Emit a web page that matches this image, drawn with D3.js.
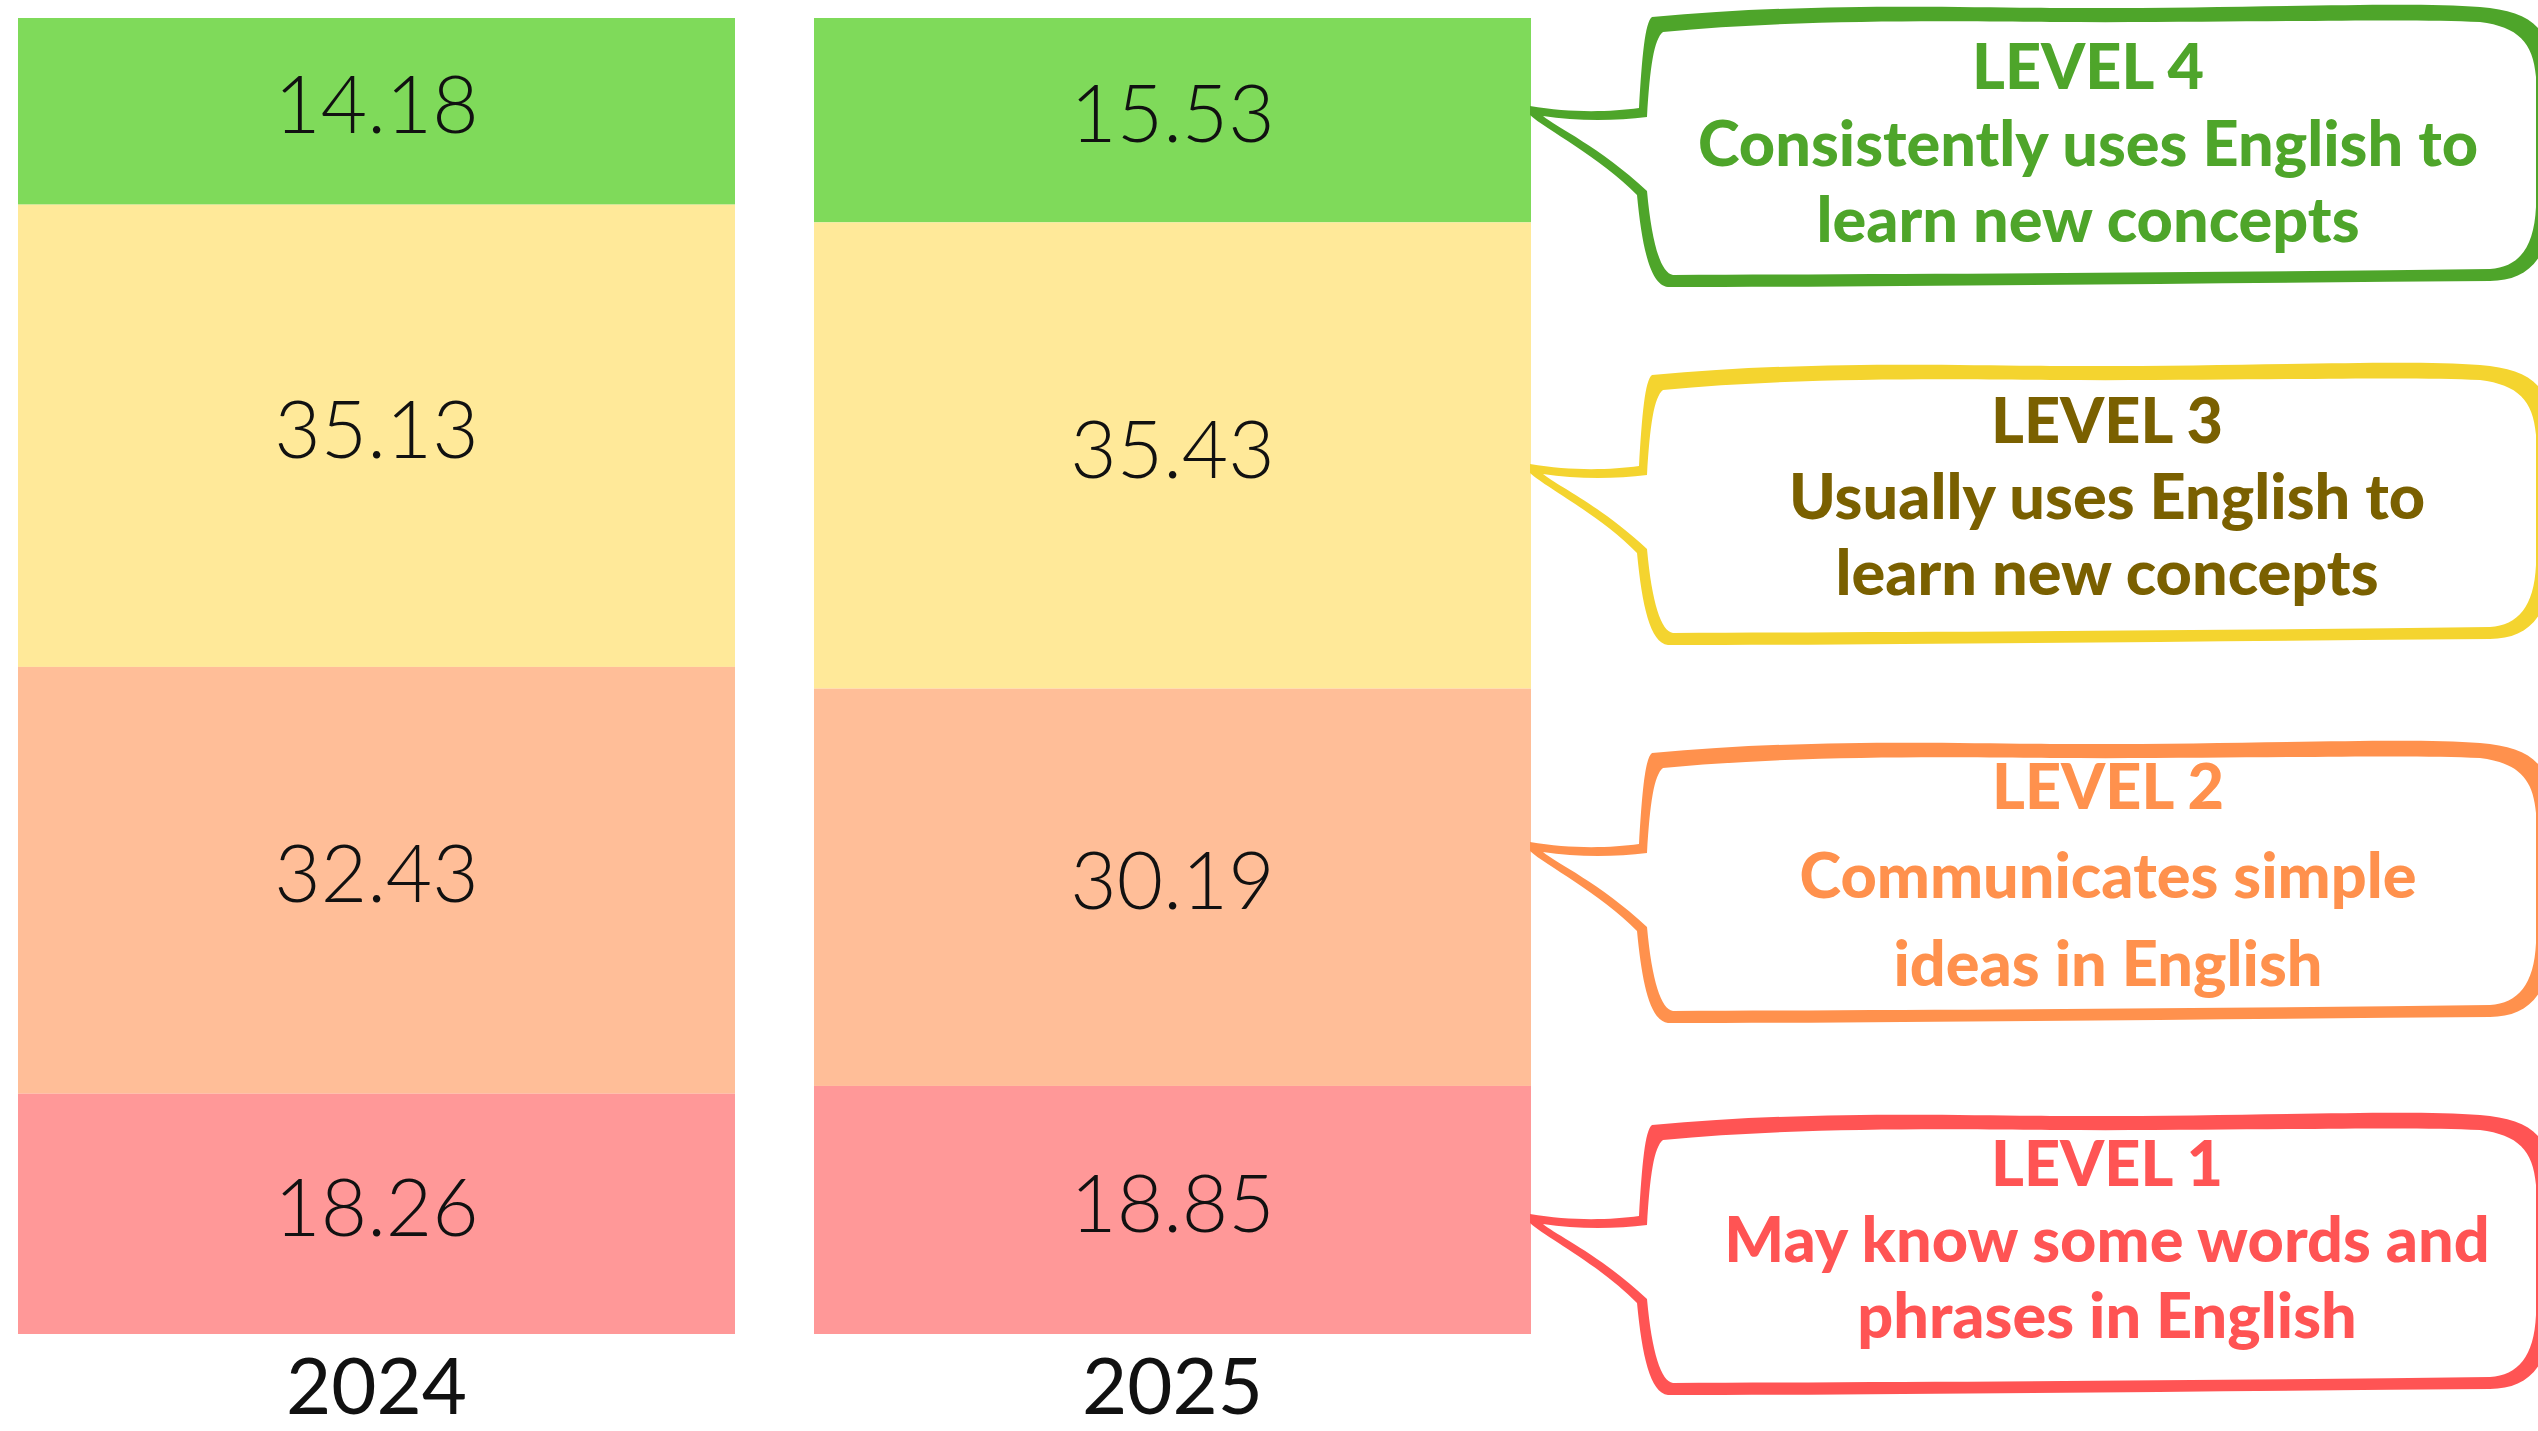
<!DOCTYPE html>
<html>
<head>
<meta charset="utf-8">
<script src="https://cdn.jsdelivr.net/npm/d3@7"></script>
<style>
  html, body { margin: 0; padding: 0; background: #fff; }
  svg { display: block; }
</style>
</head>
<body>
<svg id="chart" width="2538" height="1431"></svg>
<script>
// data (percent of students at each level)
var years = ["2024", "2025"];
var levels = ["LEVEL 4", "LEVEL 3", "LEVEL 2", "LEVEL 1"];
var values2024 = [14.18, 35.13, 32.43, 18.26];
var values2025 = [15.53, 35.43, 30.19, 18.85];
var levelLines = [
  ["Consistently uses English to", "learn new concepts"],
  ["Usually uses English to", "learn new concepts"],
  ["Communicates simple", "ideas in English"],
  ["May know some words and", "phrases in English"]
];

// colours
var barColors = ["#7fda5a", "#ffe999", "#ffbe98", "#ff9898"];
var bubbleColors = ["#4ea52a", "#f4d42f", "#ff914d", "#ff5454"];
var textColors = ["#4ea52a", "#7a6000", "#ff914d", "#ff5454"];

var width = 2538, height = 1431;
var svg = d3.select("#chart");

// one row per year, keyed by level
var rows = years.map(function(yr, i){
  var vals = i === 0 ? values2024 : values2025;
  var row = { year: yr };
  levels.forEach(function(l, j){ row[l] = vals[j]; });
  return row;
});

var stack = d3.stack().keys(levels);
var series = stack(rows);

var x = d3.scaleBand()
  .domain(years)
  .range([18, 1531])
  .paddingInner(79 / 796)
  .paddingOuter(0);

var y = d3.scaleLinear()
  .domain([0, 100])
  .range([18, 1334]);

// bars (level 4 stacked first, so it sits at the top)
var layer = svg.append("g")
  .selectAll("g")
  .data(series)
  .enter()
    .append("g")
    .attr("fill", function(d, i){ return barColors[i]; });

layer.selectAll("rect")
  .data(function(d){ return d; })
  .enter()
    .append("rect")
    .attr("x", function(d){ return x(d.data.year); })
    .attr("width", x.bandwidth())
    .attr("y", function(d){ return y(d[0]); })
    .attr("height", function(d){ return y(d[1]) - y(d[0]); });

// value labels
layer.selectAll("text")
  .data(function(d){ return d; })
  .enter()
    .append("text")
    .attr("x", function(d){ return x(d.data.year) + x.bandwidth() / 2; })
    .attr("y", function(d){ return (y(d[0]) + y(d[1])) / 2 + 22; })
    .attr("text-anchor", "middle")
    .style("font-family", "Lato, 'Noto Sans', sans-serif")
    .style("font-weight", 300)
    .style("font-size", "80px")
    .style("fill", "#111")
    .text(function(d){ return (d[1] - d[0]).toFixed(2); });

// year axis
var axis = svg.append("g")
  .attr("transform", "translate(0,1334)")
  .call(d3.axisBottom(x).tickSize(0).tickPadding(0));
axis.select(".domain").remove();
axis.selectAll("text")
  .attr("dy", null)
  .attr("y", 80)
  .style("font-family", "Lato, 'Noto Sans', sans-serif")
  .style("font-weight", 400)
  .style("font-size", "78px")
  .style("fill", "#111");

// speech bubbles on the right
var bubbleTops = [17, 375, 753, 1125];
var textBase = [[72, 149, 225], [68, 144, 220], [56, 145, 233], [61, 137, 213]];
var textCenter = [2088, 2107, 2108, 2107];

function outerPath(T){
  var p = d3.path();
  p.moveTo(1652, T);
  p.bezierCurveTo(1800, T - 14, 1950, T - 10, 2050, T - 9);
  p.bezierCurveTo(2250, T - 8, 2400, T - 16, 2480, T - 10);
  p.bezierCurveTo(2530, T - 6, 2552, T + 10, 2552, T + 60);
  p.lineTo(2552, T + 190);
  p.bezierCurveTo(2550, T + 242, 2527, T + 264, 2490, T + 264);
  p.bezierCurveTo(2200, T + 266, 1900, T + 270, 1668, T + 270);
  p.bezierCurveTo(1650, T + 268, 1642, T + 230, 1637, T + 178);
  p.bezierCurveTo(1600, T + 140, 1545, T + 112, 1530, T + 98);
  p.lineTo(1530, T + 89);
  p.bezierCurveTo(1570, T + 96, 1610, T + 95, 1639, T + 91);
  p.bezierCurveTo(1642, T + 40, 1645, T + 5, 1652, T);
  p.closePath();
  return p.toString();
}

function innerPath(T){
  var p = d3.path();
  p.moveTo(1663, T + 15);
  p.bezierCurveTo(1800, T + 2, 1950, T + 4, 2050, T + 5);
  p.bezierCurveTo(2250, T + 6, 2400, T + 1, 2480, T + 5);
  p.bezierCurveTo(2518, T + 10, 2533, T + 25, 2536, T + 60);
  p.lineTo(2536, T + 190);
  p.bezierCurveTo(2534, T + 232, 2518, T + 250, 2490, T + 252);
  p.bezierCurveTo(2200, T + 256, 1900, T + 257, 1673, T + 258);
  p.bezierCurveTo(1661, T + 256, 1652, T + 228, 1647, T + 174);
  p.bezierCurveTo(1600, T + 130, 1556, T + 110, 1543, T + 99);
  p.bezierCurveTo(1575, T + 104, 1615, T + 104, 1647, T + 100);
  p.bezierCurveTo(1650, T + 50, 1654, T + 22, 1663, T + 15);
  p.closePath();
  return p.toString();
}

var bubble = svg.append("g")
  .selectAll("g")
  .data(levels)
  .enter()
    .append("g");

bubble.append("path")
  .attr("d", function(d, i){ return outerPath(bubbleTops[i]); })
  .attr("fill", function(d, i){ return bubbleColors[i]; });

bubble.append("path")
  .attr("d", function(d, i){ return innerPath(bubbleTops[i]); })
  .attr("fill", "#fff");

var label = bubble.append("text")
  .attr("text-anchor", "middle")
  .style("font-family", "Lato, 'Noto Sans', sans-serif")
  .style("font-weight", 900)
  .style("font-size", "63px")
  .style("fill", function(d, i){ return textColors[i]; });

label.selectAll("tspan")
  .data(function(d, i){ return [d].concat(levelLines[i]).map(function(t, k){ return { t: t, i: i, k: k }; }); })
  .enter()
    .append("tspan")
    .attr("x", function(d){ return textCenter[d.i]; })
    .attr("y", function(d){ return bubbleTops[d.i] + textBase[d.i][d.k]; })
    .text(function(d){ return d.t; });
</script>
</body>
</html>
